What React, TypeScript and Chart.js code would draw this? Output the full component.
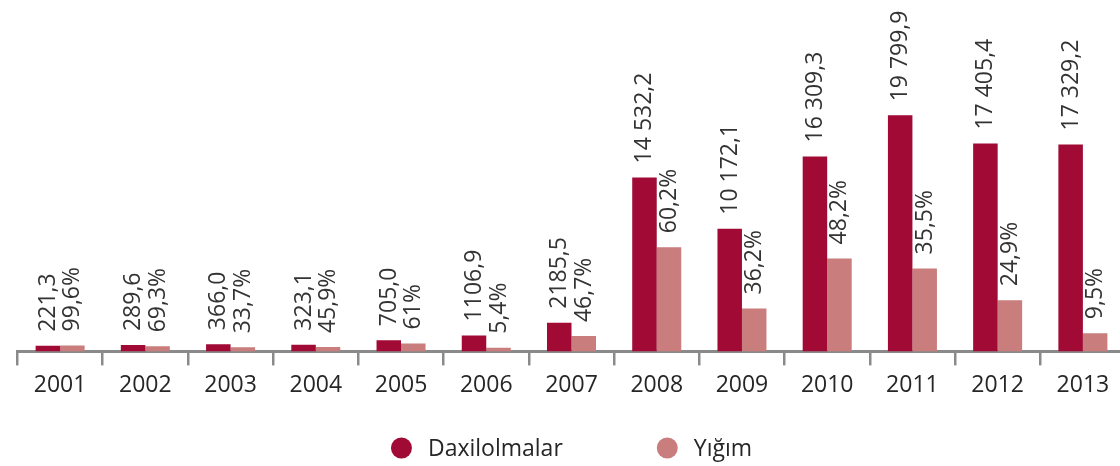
import React, { useEffect, useRef } from "react";
import { Chart, registerables } from "chart.js";

Chart.register(...registerables);

const years = ["2001", "2002", "2003", "2004", "2005", "2006", "2007", "2008", "2009", "2010", "2011", "2012", "2013"];

const daxilolmalar = [221.3, 289.6, 366.0, 323.1, 705.0, 1106.9, 2185.5, 14532.2, 10172.1, 16309.3, 19799.9, 17405.4, 17329.2];
const daxilolmalarLabels = ["221,3", "289,6", "366,0", "323,1", "705,0", "1106,9", "2185,5", "14 532,2", "10 172,1", "16 309,3", "19 799,9", "17 405,4", "17 329,2"];

const yigim = [260, 180, 100, 120, 430, 60, 1050, 8600, 3400, 7650, 6800, 4100, 1300];
const yigimLabels = ["99,6%", "69,3%", "33,7%", "45,9%", "61%", "5,4%", "46,7%", "60,2%", "36,2%", "48,2%", "35,5%", "24,9%", "9,5%"];

const seriesNames = ["Daxilolmalar", "Yığım"];
const seriesColors = ["#A00A35", "#C97D7D"];
const valueLabels = [daxilolmalarLabels, yigimLabels];

const AXIS_MIN = -250;
const AXIS_MAX = 29600;
const FONT = '"Open Sans", sans-serif';

const barLabelPlugin = {
  id: "barLabels",
  afterDatasetsDraw(chart: any) {
    const ctx = chart.ctx;
    ctx.save();
    ctx.font = `23px ${FONT}`;
    ctx.fillStyle = "#333333";
    ctx.textAlign = "left";
    ctx.textBaseline = "alphabetic";
    chart.data.datasets.forEach((_ds: any, i: number) => {
      const meta = chart.getDatasetMeta(i);
      const labels = valueLabels[i];
      meta.data.forEach((bar: any, j: number) => {
        ctx.save();
        ctx.translate(bar.x + 7, bar.y - 14);
        ctx.rotate(-Math.PI / 2);
        ctx.fillText(labels[j], 0, 0);
        ctx.restore();
      });
    });
    ctx.restore();
  },
};

const legendPlugin = {
  id: "circleLegend",
  afterDraw(chart: any) {
    const ctx = chart.ctx;
    const { left, right } = chart.chartArea;
    ctx.save();
    ctx.font = `23px ${FONT}`;
    const r = 10.5;
    const gapText = 16;
    const gapItem = 94;
    const items = chart.data.datasets.map((ds: any) => ({
      text: ds.label,
      color: ds.backgroundColor,
      w: ctx.measureText(ds.label).width,
    }));
    const total =
      items.reduce((s: number, it: any) => s + 2 * r + gapText + it.w, 0) + gapItem * (items.length - 1);
    let x = (left + right) / 2 - total / 2;
    const y = chart.height - 18;
    ctx.textAlign = "left";
    ctx.textBaseline = "middle";
    items.forEach((it: any) => {
      ctx.beginPath();
      ctx.fillStyle = it.color;
      ctx.arc(x + r, y, r, 0, Math.PI * 2);
      ctx.fill();
      ctx.fillStyle = "#262626";
      ctx.fillText(it.text, x + 2 * r + gapText, y + 1);
      x += 2 * r + gapText + it.w + gapItem;
    });
    ctx.restore();
  },
};

export default function App() {
  const canvasRef = useRef<HTMLCanvasElement | null>(null);

  useEffect(() => {
    if (!canvasRef.current) return;
    const chart = new Chart(canvasRef.current, {
      type: "bar",
      data: {
        labels: years,
        datasets: [
          {
            label: seriesNames[0],
            data: daxilolmalar,
            backgroundColor: seriesColors[0],
            base: AXIS_MIN,
            categoryPercentage: 0.575,
            barPercentage: 1,
          } as any,
          {
            label: seriesNames[1],
            data: yigim,
            backgroundColor: seriesColors[1],
            base: AXIS_MIN,
            categoryPercentage: 0.575,
            barPercentage: 1,
          } as any,
        ],
      },
      options: {
        animation: false,
        responsive: false,
        devicePixelRatio: 1,
        layout: { padding: { left: 17.5, right: 0.5, top: 0, bottom: 61 } },
        plugins: {
          legend: { display: false },
          tooltip: { enabled: false },
        },
        scales: {
          x: {
            offset: true,
            grid: {
              display: true,
              offset: true,
              drawOnChartArea: false,
              drawTicks: true,
              tickLength: 14,
              color: "#8a8a8a",
              lineWidth: 2.5,
            },
            border: { display: true, color: "#8a8a8a", width: 3 },
            ticks: {
              color: "#262626",
              font: { family: FONT, size: 23 },
              padding: 6,
              maxRotation: 0,
              autoSkip: false,
            },
          },
          y: {
            display: false,
            min: AXIS_MIN,
            max: AXIS_MAX,
          },
        },
      },
      plugins: [barLabelPlugin, legendPlugin],
    });
    return () => chart.destroy();
  }, []);

  return (
    <div
      style={{
        position: "fixed",
        left: 0,
        top: 0,
        width: 1120,
        height: 466,
        overflow: "hidden",
        background: "#ffffff",
      }}
    >
      <canvas ref={canvasRef} width={1126} height={466} style={{ display: "block" }} />
    </div>
  );
}
